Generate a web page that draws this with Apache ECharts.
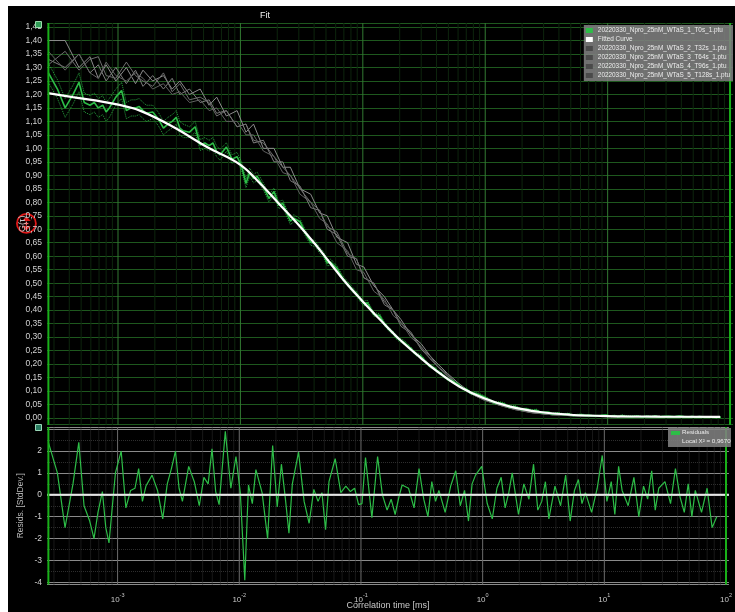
<!DOCTYPE html>
<html>
<head>
<meta charset="utf-8">
<script src="https://cdn.jsdelivr.net/npm/echarts@6/dist/echarts.min.js"></script>
<style>
  html, body { margin: 0; padding: 0; background: #ffffff; }
  #chart { width: 735px; height: 612px; }
</style>
</head>
<body>
<div id="chart"></div>
<script>
// ---- correlation data (lag times in ms) ----
const lagTimes = [
  2.7e-4, 3.2e-4, 3.7e-4, 4.3e-4, 4.8e-4, 5.3e-4, 5.9e-4, 6.4e-4, 6.9e-4, 7.5e-4, 8.0e-4, 8.5e-4,
  9.6e-4, 1.07e-3, 1.17e-3, 1.28e-3, 1.39e-3, 1.49e-3, 1.60e-3, 1.71e-3,
  1.92e-3, 2.13e-3, 2.35e-3, 2.56e-3, 2.77e-3, 2.99e-3, 3.20e-3, 3.41e-3,
  3.84e-3, 4.27e-3, 4.69e-3, 5.12e-3, 5.55e-3, 5.97e-3, 6.40e-3, 6.83e-3,
  7.68e-3, 8.53e-3, 9.39e-3, 1.02e-2, 1.11e-2, 1.19e-2, 1.28e-2, 1.37e-2,
  1.54e-2, 1.71e-2, 1.88e-2, 2.05e-2, 2.22e-2, 2.39e-2, 2.56e-2, 2.73e-2,
  3.07e-2, 3.41e-2, 3.75e-2, 4.10e-2, 4.44e-2, 4.78e-2, 5.12e-2, 5.46e-2,
  6.14e-2, 6.83e-2, 7.51e-2, 8.19e-2, 8.87e-2, 9.56e-2, 0.102, 0.109,
  0.123, 0.137, 0.150, 0.164, 0.177, 0.191, 0.205, 0.218,
  0.246, 0.273, 0.300, 0.328, 0.355, 0.382, 0.410, 0.437,
  0.492, 0.546, 0.601, 0.655, 0.710, 0.765, 0.819, 0.874,
  0.983, 1.09, 1.20, 1.31, 1.42, 1.53, 1.64, 1.75,
  1.97, 2.18, 2.40, 2.62, 2.84, 3.06, 3.28, 3.50,
  3.93, 4.37, 4.81, 5.24, 5.68, 6.12, 6.55, 6.99,
  7.86, 8.74, 9.61, 10.5, 11.4, 12.2, 13.1, 14.0,
  15.7, 17.5, 19.2, 21.0, 22.7, 24.5, 26.2, 28.0,
  31.5, 35.0, 38.4, 41.9, 45.4, 48.9, 52.4, 55.9,
  62.9, 69.9, 76.9, 83.9
];

// G(tau) of the first measurement (T0s)
const measuredG = [
  1.28, 1.22, 1.15, 1.20, 1.245, 1.17, 1.16, 1.17, 1.15, 1.16, 1.135, 1.15,
  1.19, 1.215, 1.14, 1.15, 1.15, 1.155, 1.14, 1.13,
  1.135, 1.11, 1.075, 1.09, 1.10, 1.115, 1.075, 1.065,
  1.06, 1.08, 1.012, 1.02, 1.01, 1.02, 0.988, 0.976,
  1.005, 0.96, 0.969, 0.935, 0.87, 0.911, 0.888, 0.896,
  0.859, 0.814, 0.84, 0.79, 0.795, 0.761, 0.73, 0.741,
  0.728, 0.684, 0.652, 0.646, 0.622, 0.606, 0.575, 0.578,
  0.556, 0.519, 0.497, 0.477, 0.461, 0.439, 0.425, 0.427,
  0.384, 0.38, 0.349, 0.328, 0.315, 0.296, 0.287, 0.28,
  0.258, 0.236, 0.228, 0.207, 0.191, 0.186, 0.172, 0.164,
  0.144, 0.135, 0.124, 0.109, 0.105, 0.091, 0.092, 0.088,
  0.078, 0.066, 0.056, 0.056, 0.053, 0.043, 0.041, 0.042,
  0.032, 0.033, 0.027, 0.029, 0.020, 0.020, 0.021, 0.015,
  0.017, 0.013, 0.015, 0.009, 0.011, 0.012, 0.009, 0.0097,
  0.0074, 0.0086, 0.0106, 0.0064, 0.0082, 0.0047, 0.009, 0.0064,
  0.0051, 0.0074, 0.0037, 0.0062, 0.0046, 0.007, 0.0037, 0.0055,
  0.0059, 0.0044, 0.0068, 0.0048, 0.0033, 0.0052, 0.003, 0.0048,
  0.003, 0.0044, 0.0022, 0.0028
];

// standard deviation of each correlation point
const measuredSd = [
  0.035, 0.035, 0.035, 0.035, 0.035, 0.035, 0.035, 0.035, 0.035, 0.035, 0.035, 0.035,
  0.03, 0.03, 0.03, 0.03, 0.03, 0.03, 0.03, 0.03,
  0.025, 0.025, 0.025, 0.025, 0.025, 0.025, 0.025, 0.025,
  0.02, 0.02, 0.02, 0.02, 0.02, 0.02, 0.02, 0.02,
  0.016, 0.016, 0.016, 0.016, 0.016, 0.016, 0.016, 0.016,
  0.013, 0.013, 0.013, 0.013, 0.013, 0.013, 0.013, 0.013,
  0.011, 0.011, 0.011, 0.011, 0.011, 0.011, 0.011, 0.011,
  0.009, 0.009, 0.009, 0.009, 0.009, 0.009, 0.009, 0.009,
  0.007, 0.007, 0.007, 0.007, 0.007, 0.007, 0.007, 0.007,
  0.006, 0.006, 0.006, 0.006, 0.006, 0.006, 0.006, 0.006,
  0.005, 0.005, 0.005, 0.005, 0.005, 0.005, 0.005, 0.005,
  0.004, 0.004, 0.004, 0.004, 0.004, 0.004, 0.004, 0.004,
  0.0035, 0.0035, 0.0035, 0.0035, 0.0035, 0.0035, 0.0035, 0.0035,
  0.003, 0.003, 0.003, 0.003, 0.003, 0.003, 0.003, 0.003,
  0.0025, 0.0025, 0.0025, 0.0025, 0.0025, 0.0025, 0.0025, 0.0025,
  0.002, 0.002, 0.002, 0.002, 0.002, 0.002, 0.002, 0.002,
  0.002, 0.002, 0.002, 0.002, 0.002, 0.002, 0.002, 0.002,
  0.0015, 0.0015, 0.0015, 0.0015
];

// weighted residuals [StdDev.]
const residuals = [
  2.4, 1.0, -1.5, 0.5, 2.4, -0.5, -1.2, -2.0, -0.8, 0.15, -1.5, -2.2,
  1.0, 2.0, -0.6, 0.2, 0.3, 1.2, -0.3, 0.4,
  0.9, 0.2, -1.1, 0.5, 1.2, 2.0, 0.3, -0.3,
  1.3, 0.6, -0.5, 0.8, 0.5, 2.1, 0.15, -0.45,
  2.9, 0.3, 1.75, 0.1, -3.9, 0.45, -0.4, 1.15,
  0.1, -2.0, 2.25, -0.55, 1.4, -0.15, -1.75, 0.5,
  1.95, -0.3, -1.3, 0.25, -0.3, 0.1, -1.6, 0.6,
  1.65, 0.1, 0.4, 0.15, 0.3, -0.45, -0.4, 1.7,
  -1.05, 1.75, 0.0, -0.7, -0.2, -0.9, -0.1, 0.45,
  0.3, -0.6, 1.2, -0.2, -1.0, 0.6, -0.3, 0.2,
  -0.8, 0.4, 1.1, -0.5, 0.2, -1.2, 0.5, 0.9,
  1.3, -0.4, -1.1, 0.3, 0.8, -0.6, 0.1, 1.0,
  -0.9, 0.5, -0.2, 1.4, -0.7, -0.3, 0.6, -1.1,
  0.4, -0.5, 0.9, -1.2, 0.2, 0.7, -0.4, 0.1,
  -0.8, 0.3, 1.8, -0.3, 0.6, -0.9, 1.3, 0.2,
  -0.5, 0.8, -1.0, 0.4, -0.2, 1.1, -0.7, 0.3,
  0.6, -0.4, 1.2, -0.1, -0.8, 0.5, -1.0, 0.2,
  -0.8, 0.3, -1.5, -1.0
];

// fitted model curve
const fitTimes = [2.68e-4, 4.28e-4, 6.49e-4, 9.81e-4, 1.51e-3, 2.81e-3, 5.33e-3, 9.93e-3, 1.45e-2,
  2.11e-2, 3.07e-2, 4.07e-2, 5.40e-2, 7.16e-2, 9.85e-2, 0.138, 0.201, 0.293, 0.427, 0.622,
  0.978, 1.60, 2.81, 4.93, 9.70, 26.8, 82.8];
const fitValues = [1.205, 1.19, 1.178, 1.163, 1.14, 1.08, 1.005, 0.94, 0.87,
  0.79, 0.71, 0.645, 0.575, 0.505, 0.435, 0.365, 0.29, 0.225, 0.165, 0.115,
  0.073, 0.042, 0.022, 0.012, 0.007, 0.005, 0.004];

// later measurements (T32s ... T128s)
const laterTimes = [2.7e-4, 3.7e-4, 4.8e-4, 5.9e-4, 6.9e-4, 8.0e-4, 9.6e-4, 1.17e-3, 1.39e-3, 1.6e-3,
  1.92e-3, 2.35e-3, 2.77e-3, 3.2e-3, 3.84e-3, 4.69e-3, 5.55e-3, 6.4e-3, 7.68e-3, 9.39e-3,
  1.11e-2, 1.28e-2, 1.54e-2, 1.88e-2, 2.22e-2, 2.56e-2, 3.07e-2, 3.75e-2, 4.44e-2, 5.12e-2,
  6.14e-2, 7.51e-2, 8.87e-2, 0.102, 0.123, 0.150, 0.177, 0.205, 0.246, 0.300,
  0.355, 0.41, 0.492, 0.601, 0.71, 0.819, 0.983, 1.31, 1.75, 2.4,
  3.5, 5.24, 7.86, 12.2, 19.2, 31.5, 48.9, 83.9];
const gT32 = [1.40, 1.40, 1.30, 1.34, 1.26, 1.31, 1.25, 1.30, 1.24, 1.29, 1.25, 1.27, 1.22, 1.25, 1.20, 1.22, 1.16, 1.19, 1.12, 1.14,
  1.06, 1.09, 1.00, 1.00, 0.93, 0.93, 0.85, 0.83, 0.76, 0.75, 0.67, 0.65, 0.57, 0.56, 0.49, 0.45, 0.40, 0.365, 0.31, 0.275,
  0.23, 0.20, 0.165, 0.13, 0.105, 0.088, 0.07, 0.05, 0.034, 0.021, 0.013, 0.009, 0.006, 0.005, 0.004, 0.004, 0.003, 0.003];
const gT64 = [1.33, 1.30, 1.35, 1.28, 1.31, 1.25, 1.30, 1.24, 1.29, 1.23, 1.27, 1.22, 1.26, 1.20, 1.22, 1.17, 1.18, 1.13, 1.14, 1.08,
  1.09, 1.02, 1.03, 0.95, 0.95, 0.88, 0.86, 0.78, 0.77, 0.70, 0.68, 0.60, 0.59, 0.52, 0.50, 0.42, 0.40, 0.34, 0.315, 0.255,
  0.22, 0.19, 0.157, 0.123, 0.098, 0.083, 0.066, 0.047, 0.031, 0.019, 0.012, 0.008, 0.006, 0.005, 0.004, 0.003, 0.003, 0.003];
const gT96 = [1.31, 1.36, 1.29, 1.33, 1.34, 1.27, 1.26, 1.32, 1.27, 1.25, 1.23, 1.28, 1.21, 1.24, 1.18, 1.19, 1.17, 1.12, 1.14, 1.08,
  1.09, 1.03, 1.02, 0.97, 0.93, 0.90, 0.85, 0.80, 0.77, 0.71, 0.69, 0.61, 0.59, 0.52, 0.50, 0.43, 0.40, 0.35, 0.32, 0.26,
  0.23, 0.19, 0.163, 0.122, 0.102, 0.084, 0.069, 0.048, 0.033, 0.02, 0.012, 0.008, 0.006, 0.005, 0.004, 0.004, 0.003, 0.003];
const gT128 = [1.36, 1.29, 1.35, 1.28, 1.26, 1.32, 1.27, 1.25, 1.28, 1.26, 1.22, 1.24, 1.20, 1.21, 1.17, 1.18, 1.14, 1.15, 1.10, 1.10,
  1.05, 1.05, 0.99, 0.97, 0.91, 0.90, 0.83, 0.80, 0.74, 0.72, 0.65, 0.62, 0.55, 0.54, 0.47, 0.44, 0.38, 0.355, 0.30, 0.265,
  0.22, 0.19, 0.155, 0.122, 0.098, 0.083, 0.066, 0.047, 0.031, 0.02, 0.012, 0.008, 0.006, 0.005, 0.004, 0.003, 0.003, 0.003];

const seriesNames = [
  '20220330_Npro_25nM_WTaS_1_T0s_1.ptu',
  'Fitted Curve',
  '20220330_Npro_25nM_WTaS_2_T32s_1.ptu',
  '20220330_Npro_25nM_WTaS_3_T64s_1.ptu',
  '20220330_Npro_25nM_WTaS_4_T96s_1.ptu',
  '20220330_Npro_25nM_WTaS_5_T128s_1.ptu'
];
const chiSquareText = 'Local X² = 0,9670';
const cursorTimes = [2.7e-4, 100];
const decadeTimes = [1e-3, 1e-2, 1e-1, 1, 10, 100];

// ---- axis extents ----
const TAU_MIN = 2.63e-4, TAU_MAX = 105.7;
const G_MIN = -0.025, G_MAX = 1.465;
const R_MIN = -4.1, R_MAX = 3.1;

// ---- helpers ----
const pairs = (xs, ys) => xs.map((x, i) => [x, ys[i]]);
const FONT = '"Liberation Sans", Arial, sans-serif';
const GREEN = '#2dbd47';

// minor log grid positions (2..9 x 10^n)
const minorTimes = [];
for (let n = -4; n <= 2; n++) {
  for (let k = 2; k <= 9; k++) {
    const v = k * Math.pow(10, n);
    if (v > TAU_MIN && v < TAU_MAX) minorTimes.push(v);
  }
}

// vertical rules at given times, as one broken polyline
const verticalRules = (times, lo, hi) => {
  const out = [];
  times.forEach((t) => { out.push([t, lo], [t, hi], [t, null]); });
  return out;
};

const upperBand = measuredG.map((g, i) => [lagTimes[i], g + measuredSd[i]]);
const lowerBand = measuredG.map((g, i) => [lagTimes[i], g - measuredSd[i]]);

const decadeLabel = (v) => {
  const e = Math.log10(v);
  const r = Math.round(e);
  if (Math.abs(e - r) > 0.01) return '';
  return '{b|10}{s|' + r + '}';
};

const ruleSeries = (xi, yi, z, style, data) => ({
  type: 'line', xAxisIndex: xi, yAxisIndex: yi, z: z, silent: true,
  data: data, showSymbol: false, connectNulls: false, clip: true,
  lineStyle: style, emphasis: { disabled: true }
});

const grayColors = ['#8c8c8c', '#7c7c7c', '#6e6e6e', '#606060'];
const grayData = [gT32, gT64, gT96, gT128];

const chart = echarts.init(document.getElementById('chart'), null, { renderer: 'canvas' });

const option = {
  backgroundColor: '#000000',
  animation: false,
  textStyle: { fontFamily: FONT },
  title: {
    text: 'Fit', left: 260, top: 11, padding: 0,
    textStyle: { color: '#f0f0f0', fontSize: 9, fontWeight: 'normal', fontFamily: FONT }
  },
  legend: {
    orient: 'vertical', right: 2, top: 25, z: 20,
    padding: [2, 3, 2, 2],
    backgroundColor: 'rgba(128,128,128,0.88)',
    borderRadius: 0,
    icon: 'rect', itemWidth: 7, itemHeight: 5, itemGap: 2,
    textStyle: { color: '#ececec', fontSize: 6.4, lineHeight: 7, fontFamily: FONT },
    selectedMode: false,
    data: [
      { name: seriesNames[0], itemStyle: { color: GREEN } },
      { name: seriesNames[1], itemStyle: { color: '#ffffff' } },
      { name: seriesNames[2], itemStyle: { color: '#4a4a4a' } },
      { name: seriesNames[3], itemStyle: { color: '#4a4a4a' } },
      { name: seriesNames[4], itemStyle: { color: '#4a4a4a' } },
      { name: seriesNames[5], itemStyle: { color: '#4a4a4a' } }
    ]
  },
  grid: [
    { left: 47, right: 2, top: 23, height: 401.7 },
    { left: 47, right: 2, top: 427, height: 157.5 }
  ],
  xAxis: [
    {
      gridIndex: 0, type: 'log', logBase: 10, min: TAU_MIN, max: TAU_MAX,
      axisLine: { show: false }, axisTick: { show: false }, axisLabel: { show: false },
      splitLine: { show: false }
    },
    {
      gridIndex: 1, type: 'log', logBase: 10, min: TAU_MIN, max: TAU_MAX,
      axisLine: { show: false }, axisTick: { show: false },
      axisLabel: {
        margin: 8, formatter: decadeLabel, showMinLabel: false, showMaxLabel: false,
        rich: {
          b: { fontSize: 8, color: '#c8c8c8', fontFamily: FONT, lineHeight: 11, verticalAlign: 'bottom' },
          s: { fontSize: 5.5, color: '#c8c8c8', fontFamily: FONT, lineHeight: 11, verticalAlign: 'top' }
        }
      },
      splitLine: { show: false },
      name: 'Correlation time [ms]', nameLocation: 'middle', nameGap: 17, nameMoveOverlap: false,
      nameTextStyle: { color: '#c8c8c8', fontSize: 9, fontFamily: FONT }
    }
  ],
  yAxis: [
    {
      gridIndex: 0, type: 'value', min: G_MIN, max: G_MAX,
      minInterval: 0.05, maxInterval: 0.05, splitNumber: 30,
      axisLine: { show: false }, axisTick: { show: false },
      axisLabel: {
        color: '#d2d2d2', fontSize: 8.5, margin: 5, fontFamily: FONT,
        showMinLabel: false, showMaxLabel: false,
        formatter: (v) => (v < -0.001 || v > 1.4501) ? '' : v.toFixed(2).replace('.', ',')
      },
      splitLine: { show: true, lineStyle: { color: '#1e581e', width: 1 } },
      name: 'G(τ)', nameLocation: 'middle', nameGap: 20, nameRotate: 90, nameMoveOverlap: false,
      nameTextStyle: { color: '#c8c8c8', fontSize: 9, fontFamily: FONT }
    },
    {
      gridIndex: 1, type: 'value', min: R_MIN, max: R_MAX,
      minInterval: 1, maxInterval: 1, splitNumber: 7,
      axisLine: { show: false }, axisTick: { show: false },
      axisLabel: {
        color: '#d2d2d2', fontSize: 8.5, margin: 5, fontFamily: FONT,
        showMinLabel: false, showMaxLabel: false,
        formatter: (v) => (v > 2.5 || v < -4.05) ? '' : String(Math.round(v))
      },
      splitLine: { show: true, lineStyle: { color: '#8a8a8a', width: 1 } },
      minorTick: { show: false, splitNumber: 2 },
      minorSplitLine: { show: true, lineStyle: { color: '#2e2e2e', width: 1, type: 'dotted' } },
      name: 'Resids. [StdDev.]', nameLocation: 'middle', nameGap: 22, nameRotate: 90, nameMoveOverlap: false,
      nameTextStyle: { color: '#b8b8b8', fontSize: 8.5, fontFamily: FONT }
    }
  ],
  series: [
    // log grid of both panels: minor rules, then decade rules
    ruleSeries(0, 0, 1, { color: '#0d250d', width: 1 }, verticalRules(minorTimes, G_MIN, G_MAX)),
    ruleSeries(0, 0, 1, { color: '#327a32', width: 1 }, verticalRules(decadeTimes, G_MIN, G_MAX)),
    ruleSeries(1, 1, 1, { color: '#303030', width: 1, type: 'dotted' }, verticalRules(minorTimes, R_MIN, R_MAX)),
    ruleSeries(1, 1, 1, { color: '#6c6c6c', width: 1 }, verticalRules(decadeTimes, R_MIN, R_MAX)),
    ...grayData.map((arr, i) => ({
      name: seriesNames[2 + i], type: 'line', xAxisIndex: 0, yAxisIndex: 0, z: 2,
      data: pairs(laterTimes, arr), showSymbol: false,
      lineStyle: { color: grayColors[i], width: 1 }, itemStyle: { color: '#4a4a4a' }
    })),
    {
      type: 'line', xAxisIndex: 0, yAxisIndex: 0, z: 3,
      data: upperBand, showSymbol: false,
      lineStyle: { color: GREEN, width: 1, type: 'dotted', opacity: 0.85 }
    },
    {
      type: 'line', xAxisIndex: 0, yAxisIndex: 0, z: 3,
      data: lowerBand, showSymbol: false,
      lineStyle: { color: GREEN, width: 1, type: 'dotted', opacity: 0.85 }
    },
    {
      name: seriesNames[0], type: 'line', xAxisIndex: 0, yAxisIndex: 0, z: 4,
      data: pairs(lagTimes, measuredG), showSymbol: false,
      lineStyle: { color: GREEN, width: 1.6 }, itemStyle: { color: GREEN }
    },
    {
      name: seriesNames[1], type: 'line', xAxisIndex: 0, yAxisIndex: 0, z: 5,
      data: pairs(fitTimes, fitValues), showSymbol: false, smooth: 0.4,
      lineStyle: { color: '#ffffff', width: 2.2 }, itemStyle: { color: '#ffffff' }
    },
    {
      name: 'Residuals', type: 'line', xAxisIndex: 1, yAxisIndex: 1, z: 3,
      data: pairs(lagTimes, residuals), showSymbol: false,
      lineStyle: { color: GREEN, width: 1.2 }, itemStyle: { color: GREEN }
    },
    // zero line of the residual panel
    ruleSeries(1, 1, 6, { color: '#e6e6e6', width: 2 }, [[TAU_MIN, 0], [TAU_MAX, 0]]),
    // time cursors
    ruleSeries(0, 0, 7, { color: '#19b019', width: 2 }, verticalRules(cursorTimes, G_MIN, G_MAX)),
    ruleSeries(1, 1, 7, { color: '#19b019', width: 2 }, verticalRules(cursorTimes, R_MIN, R_MAX))
  ],
  graphic: [
    // window frame strips
    { type: 'rect', left: 0, top: 0, z: 100, shape: { width: 735, height: 6 }, style: { fill: '#ffffff' } },
    { type: 'rect', left: 0, top: 0, z: 100, shape: { width: 8, height: 612 }, style: { fill: '#ffffff' } },
    // panel handles
    { type: 'rect', left: 35, top: 21, z: 50, shape: { width: 6, height: 6 }, style: { fill: '#2f9b55', stroke: '#9ad8aa', lineWidth: 1 } },
    { type: 'rect', left: 35, top: 424, z: 50, shape: { width: 6, height: 6 }, style: { fill: '#2a7d62', stroke: '#9ad8b8', lineWidth: 1 } },
    // axis scaling control
    {
      type: 'group', left: 16, top: 213, z: 60,
      children: [
        { type: 'circle', shape: { cx: 10.5, cy: 10.5, r: 9.5 }, style: { fill: 'rgba(40,0,0,0.35)', stroke: '#e01818', lineWidth: 1.8 } },
        { type: 'polygon', shape: { points: [[6, 8], [15, 8], [10.5, 3.5]] }, style: { fill: '#e01818' } },
        { type: 'polygon', shape: { points: [[6, 13], [15, 13], [10.5, 17.5]] }, style: { fill: '#e01818' } },
        { type: 'rect', shape: { x: 8.5, y: 10, width: 4, height: 1.2 }, style: { fill: '#ff6060' } },
        { type: 'rect', shape: { x: 9.9, y: 8.6, width: 1.2, height: 4 }, style: { fill: '#ff6060' } }
      ]
    },
    // residual legend
    {
      type: 'group', left: 668, top: 428, z: 60,
      children: [
        { type: 'rect', z: 60, shape: { x: 0, y: 0, width: 63, height: 19 }, style: { fill: 'rgba(128,128,128,0.88)' } },
        { type: 'rect', z: 61, shape: { x: 3, y: 3, width: 9, height: 4 }, style: { fill: GREEN } },
        { type: 'text', z: 61, style: { x: 14, y: 1.5, text: 'Residuals', fill: '#ececec', fontSize: 6.2, fontFamily: FONT, verticalAlign: 'top', align: 'left' } },
        { type: 'text', z: 61, style: { x: 14, y: 10, text: chiSquareText, fill: '#ececec', fontSize: 6.2, fontFamily: FONT, verticalAlign: 'top', align: 'left' } }
      ]
    }
  ]
};

chart.setOption(option);
</script>
</body>
</html>
